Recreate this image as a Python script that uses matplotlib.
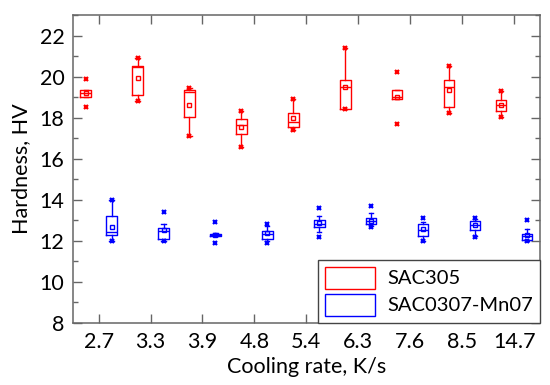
import numpy as np
import matplotlib
matplotlib.use("Agg")
import matplotlib.pyplot as plt
from matplotlib.patches import Patch
from matplotlib.ticker import MultipleLocator

plt.rcParams['font.family'] = ['Lato', 'DejaVu Sans']

rates = ['2.7', '3.3', '3.9', '4.8', '5.4', '6.3', '7.6', '8.5', '14.7']

# SAC305 (red)
sac_q1 = [19.00, 19.11, 18.01, 17.21, 17.53, 18.42, 18.92, 18.51, 18.32]
sac_med = [19.20, 20.45, 19.24, 17.64, 17.79, 19.50, 18.98, 19.47, 18.63]
sac_q3 = [19.32, 20.51, 19.32, 17.92, 18.21, 19.81, 19.32, 19.81, 18.84]
sac_wlo = [19.00, 18.82, 17.12, 16.54, 17.41, 18.42, 18.92, 18.22, 18.03]
sac_whi = [19.32, 20.90, 19.42, 18.32, 18.90, 21.40, 19.32, 20.50, 19.30]
sac_mean = [19.20, 19.93, 18.61, 17.53, 17.97, 19.50, 19.01, 19.34, 18.63]
sac_min = [18.51, 18.82, 17.12, 16.54, 17.41, 18.42, 17.70, 18.22, 18.03]
sac_max = [19.88, 20.90, 19.42, 18.32, 18.90, 21.40, 20.21, 20.50, 19.30]

# SAC0307-Mn07 (blue)
mn_q1 = [12.29, 12.08, 12.21, 12.08, 12.66, 12.80, 12.21, 12.50, 12.05]
mn_med = [12.42, 12.47, 12.27, 12.31, 12.83, 12.98, 12.50, 12.75, 12.21]
mn_q3 = [13.20, 12.59, 12.34, 12.49, 12.99, 13.10, 12.81, 12.96, 12.34]
mn_wlo = [12.00, 12.00, 12.21, 11.97, 12.42, 12.70, 12.00, 12.20, 11.97]
mn_whi = [14.00, 12.80, 12.37, 12.71, 13.19, 13.35, 12.91, 13.04, 12.55]
mn_mean = [12.66, 12.50, 12.27, 12.36, 12.87, 12.98, 12.55, 12.75, 12.25]
mn_min = [12.00, 11.99, 11.88, 11.88, 12.18, 12.66, 11.98, 12.18, 11.97]
mn_max = [14.00, 13.38, 12.89, 12.83, 13.61, 13.71, 13.12, 13.12, 12.99]


def make_stats(q1, med, q3, wlo, whi, mean, mn, mx):
    stats = []
    for i in range(len(q1)):
        stats.append(dict(q1=q1[i], med=med[i], q3=q3[i], whislo=wlo[i],
                          whishi=whi[i], mean=mean[i], fliers=[mn[i], mx[i]]))
    return stats


def draw(ax, stats, pos, color):
    lw = 1.0
    ax.bxp(stats, positions=pos, widths=0.2, capwidths=0.08, showmeans=True,
           boxprops=dict(color=color, linewidth=lw),
           whiskerprops=dict(color=color, linewidth=lw),
           capprops=dict(color=color, linewidth=lw),
           medianprops=dict(color=color, linewidth=lw),
           meanprops=dict(marker='s', markersize=3.5, markeredgecolor=color,
                          markerfacecolor='none', markeredgewidth=1.0),
           flierprops=dict(marker='x', markersize=3.5, markeredgecolor=color,
                           markeredgewidth=1.6, linestyle='none'),
           manage_ticks=False)


fig = plt.figure(figsize=(5.5, 3.85), dpi=100)
ax = fig.add_axes([0.132, 0.162, 0.85, 0.799])

x = np.arange(1, len(rates) + 1)
draw(ax, make_stats(sac_q1, sac_med, sac_q3, sac_wlo, sac_whi, sac_mean, sac_min, sac_max),
     x - 0.25, '#ff0000')
draw(ax, make_stats(mn_q1, mn_med, mn_q3, mn_wlo, mn_whi, mn_mean, mn_min, mn_max),
     x + 0.25, '#0000ff')

ax.set_xlim(0.5, len(rates) + 0.5)
ax.set_ylim(8, 23)
ax.set_xticks(x)
ax.set_xticklabels(rates)
ax.yaxis.set_minor_locator(MultipleLocator(1))
ax.set_yticks(np.arange(8, 23, 2))

spine_c = '#666666'
for s in ax.spines.values():
    s.set_color(spine_c)
    s.set_linewidth(1.1)
ax.tick_params(which='major', direction='in', length=6.5, width=1.0, color=spine_c,
               top=True, right=True, labelsize=15.5)
ax.tick_params(axis='x', which='major', pad=7)
ax.tick_params(axis='y', which='major', pad=6)
ax.tick_params(which='minor', direction='in', length=3.4, width=1.0, color=spine_c,
               right=True)
ax.tick_params(axis='x', which='minor', bottom=False, top=False)

ax.set_xlabel('Cooling rate, K/s', fontsize=15.5, labelpad=3)
ax.set_ylabel('Hardness, HV', fontsize=15.5, labelpad=6)

handles = [Patch(facecolor='none', edgecolor='#ff0000', linewidth=1.0),
           Patch(facecolor='none', edgecolor='#0000ff', linewidth=1.0)]
leg = ax.legend(handles, ['SAC305', 'SAC0307-Mn07'], loc='lower right', fontsize=14.5,
                frameon=True, fancybox=False, framealpha=1, borderaxespad=0,
                handlelength=2.5, handleheight=1.3, handletextpad=0.6,
                labelspacing=0.25, borderpad=0.35)
leg.get_frame().set_edgecolor('#444444')
leg.get_frame().set_linewidth(1.0)

fig.savefig('out.png', dpi=100, facecolor='w')
